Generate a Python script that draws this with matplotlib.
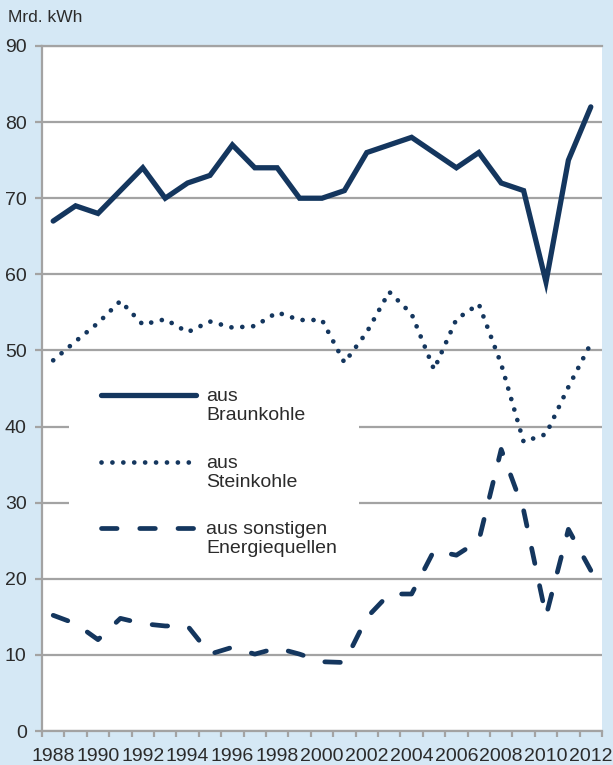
import matplotlib
matplotlib.use("Agg")
import matplotlib.pyplot as plt
from matplotlib.patches import Rectangle
from matplotlib.lines import Line2D
from matplotlib.ticker import FixedLocator, NullFormatter

plt.rcParams['font.family'] = ['Liberation Sans', 'DejaVu Sans']

years = list(range(1988, 2013))
braunkohle = [67, 69, 68, 71, 74, 70, 72, 73, 77, 74, 74, 70, 70, 71, 76, 77, 78, 76, 74, 76, 72, 71, 59, 75, 82]
steinkohle = [48.7, 51.2, 53.6, 56.5, 53.4, 54.1, 52.4, 53.8, 53.0, 53.2, 55.0, 54.0, 54.0, 48.4, 52.4, 57.7, 54.8, 47.5, 54.1, 56.1, 48.2, 38.0, 39.0, 45.2, 50.9]
sonstige = [15.2, 14.1, 12.0, 14.8, 14.1, 13.8, 13.8, 10.1, 11.0, 10.1, 10.9, 10.1, 9.1, 9.0, 14.9, 18.0, 18.0, 23.7, 23.1, 25.0, 37.0, 29.0, 15.1, 26.5, 21.1]
labels = ["aus\nBraunkohle", "aus\nSteinkohle", "aus sonstigen\nEnergiequellen"]
yticks = list(range(0, 91, 10))
xlabel_years = list(range(1988, 2013, 2))

bg = '#d5e8f5'
navy = '#14365e'
gray = '#a3a3a3'
txt = '#2b2b2b'

W, H = 613, 765
fig = plt.figure(figsize=(W / 100, H / 100), dpi=100, facecolor=bg)
L, R, T, B = 42, 602, 46, 731
ax = fig.add_axes([L / W, 1 - B / H, (R - L) / W, (B - T) / H])
ax.set_facecolor('white')
ax.set_xlim(1987.5, 2012.5)
ax.set_ylim(0, 90)

ax.spines['right'].set_visible(False)
for s in ['left', 'bottom', 'top']:
    ax.spines[s].set_color(gray)
    ax.spines[s].set_linewidth(1.6)

ax.yaxis.grid(True, color=gray, linewidth=1.6, zorder=0)
ax.set_axisbelow(True)
ax.set_yticks(yticks)
ax.set_yticklabels([str(v) for v in yticks])
ax.tick_params(axis='y', length=5, width=1.6, color=gray, pad=6, labelsize=14, labelcolor=txt)

ax.set_xticks(xlabel_years)
ax.set_xticklabels([str(y) for y in xlabel_years])
ax.xaxis.set_minor_locator(FixedLocator([y - 0.5 for y in years] + [years[-1] + 0.5]))
ax.xaxis.set_minor_formatter(NullFormatter())
ax.tick_params(axis='x', which='major', length=0, pad=12, labelsize=14, labelcolor=txt)
ax.tick_params(axis='x', which='minor', length=4, width=1.6, color=gray)

solid_kw = dict(color=navy, lw=3.8, solid_capstyle='round', solid_joinstyle='miter')
dot_kw = dict(color=navy, lw=3.4, linestyle=(0, (0.01, 2.3)), dash_capstyle='round')
dash_kw = dict(color=navy, lw=3.4, linestyle=(0, (3.3, 4.8)), dash_capstyle='round')

ax.plot(years, braunkohle, zorder=3, **solid_kw)
ax.plot(years, steinkohle, zorder=3, **dot_kw)
ax.plot(years, sonstige, zorder=3, **dash_kw)

# legend (manual, to keep handle aligned with the first text line)
def ax_x(px):
    return (px - L) / (R - L)

def ax_y(py):
    return (B - py) / (B - T)

ax.add_patch(Rectangle((ax_x(69), ax_y(570)), ax_x(359) - ax_x(69), ax_y(362) - ax_y(570),
                       transform=ax.transAxes, facecolor='white', edgecolor='none', zorder=1))
entry_y = [395, 462, 528]
kws = [solid_kw, dot_kw, dash_kw]
for yy, kw, lab in zip(entry_y, kws, labels):
    ax.add_line(Line2D([ax_x(101), ax_x(196)], [ax_y(yy), ax_y(yy)], transform=ax.transAxes, zorder=3, **kw))
    ax.text(ax_x(206), ax_y(yy + 11), lab, transform=ax.transAxes, ha='left', va='center',
            fontsize=14, color=txt, linespacing=1.1, zorder=4)

fig.text(8 / W, 1 - 18 / H, "Mrd. kWh", ha='left', va='center', fontsize=12.5, color=txt)

fig.savefig('out.png', dpi=100, facecolor=bg)
